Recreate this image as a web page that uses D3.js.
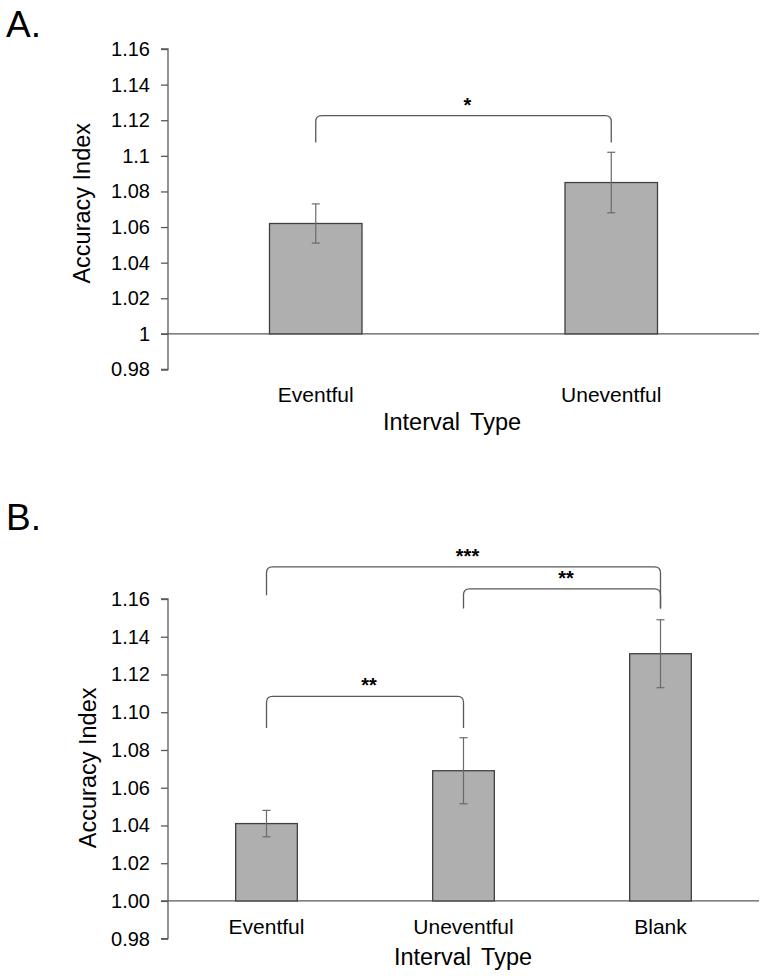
<!DOCTYPE html>
<html><head><meta charset="utf-8">
<script src="https://cdn.jsdelivr.net/npm/d3@7"></script>
<style>
html,body{margin:0;padding:0;background:#fff;}
svg{display:block;font-family:"Liberation Sans",Arial,sans-serif;}
</style></head>
<body>
<svg id="chart" width="765" height="976"></svg>
<script>
// ---- Data ----
const categoriesA = ["Eventful", "Uneventful"];
const meansA = [1.062, 1.085];
const errorsA = [0.011, 0.017];
const ticksA = [0.98, 1.00, 1.02, 1.04, 1.06, 1.08, 1.10, 1.12, 1.14, 1.16];
const tickLabelsA = ["0.98", "1", "1.02", "1.04", "1.06", "1.08", "1.1", "1.12", "1.14", "1.16"];
const bracketsA = [
  {from: "Eventful", to: "Uneventful", top: 1.1226, leftBottom: 1.1075, rightBottom: 1.1075, label: "*"}
];

const categoriesB = ["Eventful", "Uneventful", "Blank"];
const meansB = [1.041, 1.069, 1.131];
const errorsB = [0.007, 0.0175, 0.018];
const ticksB = [0.98, 1.00, 1.02, 1.04, 1.06, 1.08, 1.10, 1.12, 1.14, 1.16];
const tickLabelsB = ["0.98", "1.00", "1.02", "1.04", "1.06", "1.08", "1.10", "1.12", "1.14", "1.16"];
const bracketsB = [
  {from: "Eventful", to: "Blank", top: 1.177, leftBottom: 1.162, rightBottom: 1.155, label: "***"},
  {from: "Uneventful", to: "Blank", top: 1.1654, leftBottom: 1.155, rightBottom: 1.155, label: "**"},
  {from: "Eventful", to: "Uneventful", top: 1.1084, leftBottom: 1.0916, rightBottom: 1.0916, label: "**"}
];

const yDomain = [0.98, 1.16];
const baseValue = 1.0;

// ---- Drawing ----
const svg = d3.select("#chart");
const FONT = '"Liberation Sans",Arial,sans-serif';

function panel(opts) {
  const g = svg.append("g");
  const x = d3.scaleBand().domain(opts.categories).range([168, 759])
    .paddingInner(0.687).paddingOuter(0.3435);
  const y = d3.scaleLinear().domain(yDomain).range(opts.yRange);

  // panel letter
  g.append("text").attr("x", 6).attr("y", opts.letterY).attr("font-size", 37)
    .attr("fill", "#000").text(opts.letter);

  // y axis
  const axis = d3.axisLeft(y).tickValues(opts.ticks).tickSize(7).tickPadding(11)
    .tickFormat((d, i) => opts.tickLabels[i]);
  const ag = g.append("g").attr("transform", "translate(168,0)").call(axis);
  ag.select(".domain").attr("stroke", "#595959").attr("stroke-width", 1.3)
    .attr("d", `M-7,${y(yDomain[1])}H0V${y(yDomain[0])}H-7`);
  ag.selectAll(".tick line").attr("stroke", "#595959").attr("stroke-width", 1.3);
  ag.selectAll(".tick text").attr("font-size", 20).attr("font-family", FONT).attr("fill", "#000");

  // baseline at 1.0
  g.append("line").attr("x1", 161).attr("x2", 759)
    .attr("y1", y(baseValue)).attr("y2", y(baseValue))
    .attr("stroke", "#595959").attr("stroke-width", 1.3);

  // bars
  g.selectAll("rect.bar").data(opts.means).join("rect").attr("class", "bar")
    .attr("x", (d, i) => x(opts.categories[i]))
    .attr("width", x.bandwidth())
    .attr("y", d => y(d))
    .attr("height", d => y(baseValue) - y(d))
    .attr("fill", "#afafaf").attr("stroke", "#404040").attr("stroke-width", 1.3);

  // error bars
  const eg = g.append("g").attr("stroke", "#6a6a6a").attr("stroke-width", 1.2);
  opts.means.forEach((m, i) => {
    const cx = x(opts.categories[i]) + x.bandwidth() / 2;
    const e = opts.errors[i];
    eg.append("line").attr("x1", cx).attr("x2", cx).attr("y1", y(m + e)).attr("y2", y(m - e));
    eg.append("line").attr("x1", cx - 4).attr("x2", cx + 4).attr("y1", y(m + e)).attr("y2", y(m + e));
    eg.append("line").attr("x1", cx - 4).attr("x2", cx + 4).attr("y1", y(m - e)).attr("y2", y(m - e));
  });

  // significance brackets
  const r = 6;
  opts.brackets.forEach(b => {
    const x1 = x(b.from) + x.bandwidth() / 2;
    const x2 = x(b.to) + x.bandwidth() / 2;
    const yt = y(b.top), yl = y(b.leftBottom), yr = y(b.rightBottom);
    const p = `M${x1},${yl}V${yt + r}Q${x1},${yt} ${x1 + r},${yt}H${x2 - r}Q${x2},${yt} ${x2},${yt + r}V${yr}`;
    g.append("path").attr("d", p).attr("fill", "none").attr("stroke", "#595959").attr("stroke-width", 1.3);
    g.append("text").attr("x", (x1 + x2) / 2 + 4).attr("y", yt - 4)
      .attr("text-anchor", "middle").attr("font-size", 20).attr("font-weight", "bold")
      .attr("fill", "#000").text(b.label);
  });

  // category labels
  g.selectAll("text.cat").data(opts.categories).join("text").attr("class", "cat")
    .attr("x", d => x(d) + x.bandwidth() / 2).attr("y", opts.catY)
    .attr("text-anchor", "middle").attr("font-size", 21).attr("fill", "#000").text(d => d);

  // x title
  g.append("text").attr("x", opts.xTitleX).attr("y", opts.xTitleY)
    .attr("text-anchor", "middle").attr("font-size", 23.5).attr("fill", "#000")
    .attr("word-spacing", 4).text("Interval Type");

  // y title
  const yc = (opts.yRange[0] + opts.yRange[1]) / 2 + opts.yTitleDy;
  g.append("text").attr("transform", `translate(${opts.yTitleX},${yc}) rotate(-90)`)
    .attr("text-anchor", "middle").attr("font-size", 23.5).attr("fill", "#000")
    .text("Accuracy Index");
}

panel({
  letter: "A.", letterY: 37,
  categories: categoriesA, means: meansA, errors: errorsA,
  ticks: ticksA, tickLabels: tickLabelsA, brackets: bracketsA,
  yRange: [369.5, 49],
  catY: 402, xTitleX: 452, xTitleY: 430, yTitleX: 90, yTitleDy: -6
});

panel({
  letter: "B.", letterY: 530,
  categories: categoriesB, means: meansB, errors: errorsB,
  ticks: ticksB, tickLabels: tickLabelsB, brackets: bracketsB,
  yRange: [938.7, 599],
  catY: 934, xTitleX: 463, xTitleY: 965, yTitleX: 96, yTitleDy: -1
});
</script>
</body></html>
